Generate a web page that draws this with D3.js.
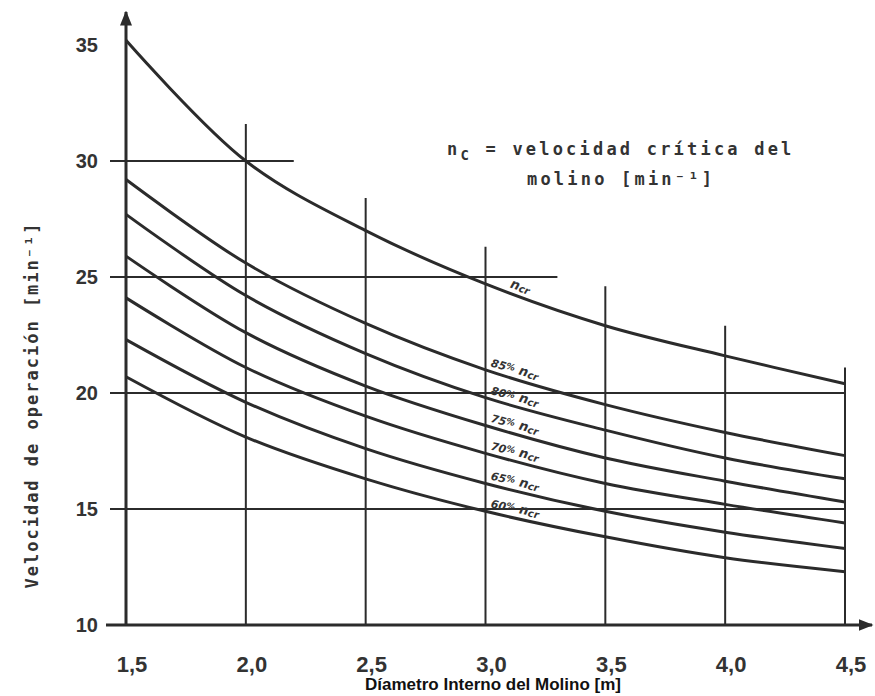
<!DOCTYPE html>
<html>
<head>
<meta charset="utf-8">
<script src="https://cdn.jsdelivr.net/npm/d3@7"></script>
<style>
  body { margin: 0; background: #fff; overflow: hidden; }
  .tick-lbl { font-family: "Liberation Sans", sans-serif; font-weight: bold; fill: #333; }
  .mono { font-family: "DejaVu Sans Mono", monospace; font-weight: bold; fill: #333; }
  .curve-lbl { font-family: "DejaVu Sans", sans-serif; font-style: italic; font-weight: bold; fill: #333; }
</style>
</head>
<body>
<svg width="875" height="696"></svg>
<script>
// values
const diameters = [1.5, 2.0, 2.5, 3.0, 3.5, 4.0, 4.5];
const nCritica = [35.2, 30.0, 27.0, 24.7, 22.9, 21.6, 20.4];
const n85 = [29.2, 25.6, 23.0, 21.0, 19.5, 18.3, 17.3];
const n80 = [27.7, 24.2, 21.7, 19.8, 18.4, 17.2, 16.3];
const n75 = [25.9, 22.6, 20.3, 18.6, 17.2, 16.2, 15.3];
const n70 = [24.1, 21.1, 19.0, 17.4, 16.1, 15.2, 14.4];
const n65 = [22.3, 19.6, 17.6, 16.1, 14.9, 14.0, 13.3];
const n60 = [20.7, 18.1, 16.3, 14.9, 13.8, 12.9, 12.3];
const curvePct = ["", "85", "80", "75", "70", "65", "60"];

const xTicks = [1.5, 2.0, 2.5, 3.0, 3.5, 4.0, 4.5];
const yTicks = [10, 15, 20, 25, 30, 35];
// hand drawn guide lines: horizontal (y, to x) and vertical (x, top y)
const hLineY = [30, 25, 20, 15];
const hLineEnd = [2.2, 3.3, 4.5, 4.5];
const vLineX = [2.0, 2.5, 3.0, 3.5, 4.0, 4.5];
const vLineTop = [31.6, 28.4, 26.3, 24.6, 22.9, 21.1];

const svg = d3.select("svg");
const x = d3.scaleLinear().domain([1.5, 4.5]).range([126, 845]);
const y = d3.scaleLinear().domain([10, 35]).range([625, 45]);
const ink = "#2b2b2b";
const fmt = d3.formatLocale({decimal: ",", thousands: ".", grouping: [3], currency: ["", ""]}).format(".1f");

// horizontal guide lines
hLineY.forEach((v, i) => {
  svg.append("line")
    .attr("x1", x(1.5) - 16).attr("x2", x(hLineEnd[i]))
    .attr("y1", y(v)).attr("y2", y(v))
    .attr("stroke", ink).attr("stroke-width", 2);
});

// vertical guide lines
vLineX.forEach((v, i) => {
  svg.append("line")
    .attr("x1", x(v)).attr("x2", x(v))
    .attr("y1", y(vLineTop[i])).attr("y2", y(10))
    .attr("stroke", ink).attr("stroke-width", 2);
});

// axes with arrows
svg.append("defs").append("marker")
  .attr("id", "arr").attr("viewBox", "0 0 10 10").attr("refX", 9).attr("refY", 5)
  .attr("markerWidth", 5).attr("markerHeight", 5).attr("orient", "auto")
  .append("path").attr("d", "M0,1 L10,5 L0,9 Z").attr("fill", ink);

svg.append("line")
  .attr("x1", x(1.5) - 20).attr("x2", 872)
  .attr("y1", y(10)).attr("y2", y(10))
  .attr("stroke", ink).attr("stroke-width", 3).attr("marker-end", "url(#arr)");
svg.append("line")
  .attr("x1", x(1.5)).attr("x2", x(1.5))
  .attr("y1", y(10)).attr("y2", 12)
  .attr("stroke", ink).attr("stroke-width", 3).attr("marker-end", "url(#arr)");

// tick labels
svg.selectAll(".ylbl").data(yTicks).enter().append("text")
  .attr("class", "tick-lbl")
  .attr("x", 98).attr("y", d => y(d) + 7)
  .attr("text-anchor", "end").attr("font-size", 20)
  .text(d => d);

svg.selectAll(".xlbl").data(xTicks).enter().append("text")
  .attr("class", "tick-lbl")
  .attr("x", d => x(d) + 6).attr("y", 672)
  .attr("text-anchor", "middle").attr("font-size", 22)
  .text(d => fmt(d));

// curves
const series = [nCritica, n85, n80, n75, n70, n65, n60];
const line = d3.line()
  .x((d, i) => x(diameters[i]))
  .y(d => y(d))
  .curve(d3.curveCatmullRom);

svg.selectAll(".curve").data(series).enter().append("path")
  .attr("d", d => line(d))
  .attr("fill", "none").attr("stroke", ink).attr("stroke-width", 3);

// curve labels, placed above each curve between 3.0 and 3.5
series.forEach((s, i) => {
  const lx = i === 0 ? 3.1 : 3.02;
  const t = (lx - 3.0) / 0.5;
  const v = s[3] + (s[4] - s[3]) * t;
  const ang = Math.atan2(y(s[4]) - y(s[3]), x(3.5) - x(3.0)) * 180 / Math.PI;
  const px = x(lx), py = y(v) - 5;
  const txt = svg.append("text").attr("class", "curve-lbl")
    .attr("font-size", 13)
    .attr("transform", `translate(${px},${py}) rotate(${ang})`);
  if (curvePct[i]) {
    txt.append("tspan").attr("font-size", 11).text(curvePct[i]);
    txt.append("tspan").attr("font-size", 9).attr("dy", -2).text("%");
    txt.append("tspan").attr("dy", 2).text(" n");
  } else {
    txt.append("tspan").text("n");
  }
  txt.append("tspan").attr("font-size", 10).attr("dy", 1).text("cr");
});

// legend note
const note = svg.append("text").attr("class", "mono").attr("font-size", 17)
  .attr("x", 447).attr("y", 155).attr("letter-spacing", 3.2);
note.append("tspan").text("n");
note.append("tspan").attr("font-size", 14).attr("dy", 5).text("C");
note.append("tspan").attr("dy", -5).text(" = velocidad crítica del");
svg.append("text").attr("class", "mono").attr("font-size", 17)
  .attr("x", 527).attr("y", 185).attr("letter-spacing", 3.2)
  .text("molino [min⁻¹]");

// axis titles
svg.append("text").attr("class", "mono").attr("font-size", 17)
  .attr("letter-spacing", 2.0)
  .attr("transform", "translate(38,405) rotate(-90)")
  .attr("text-anchor", "middle")
  .text("Velocidad de operación [min⁻¹]");

svg.append("text")
  .attr("x", 493).attr("y", 690)
  .attr("text-anchor", "middle")
  .attr("font-family", "Liberation Sans Narrow, Liberation Sans, sans-serif")
  .attr("font-weight", "bold").attr("font-size", 17).attr("fill", "#111")
  .text("Díametro Interno del Molino [m]");
</script>
</body>
</html>
